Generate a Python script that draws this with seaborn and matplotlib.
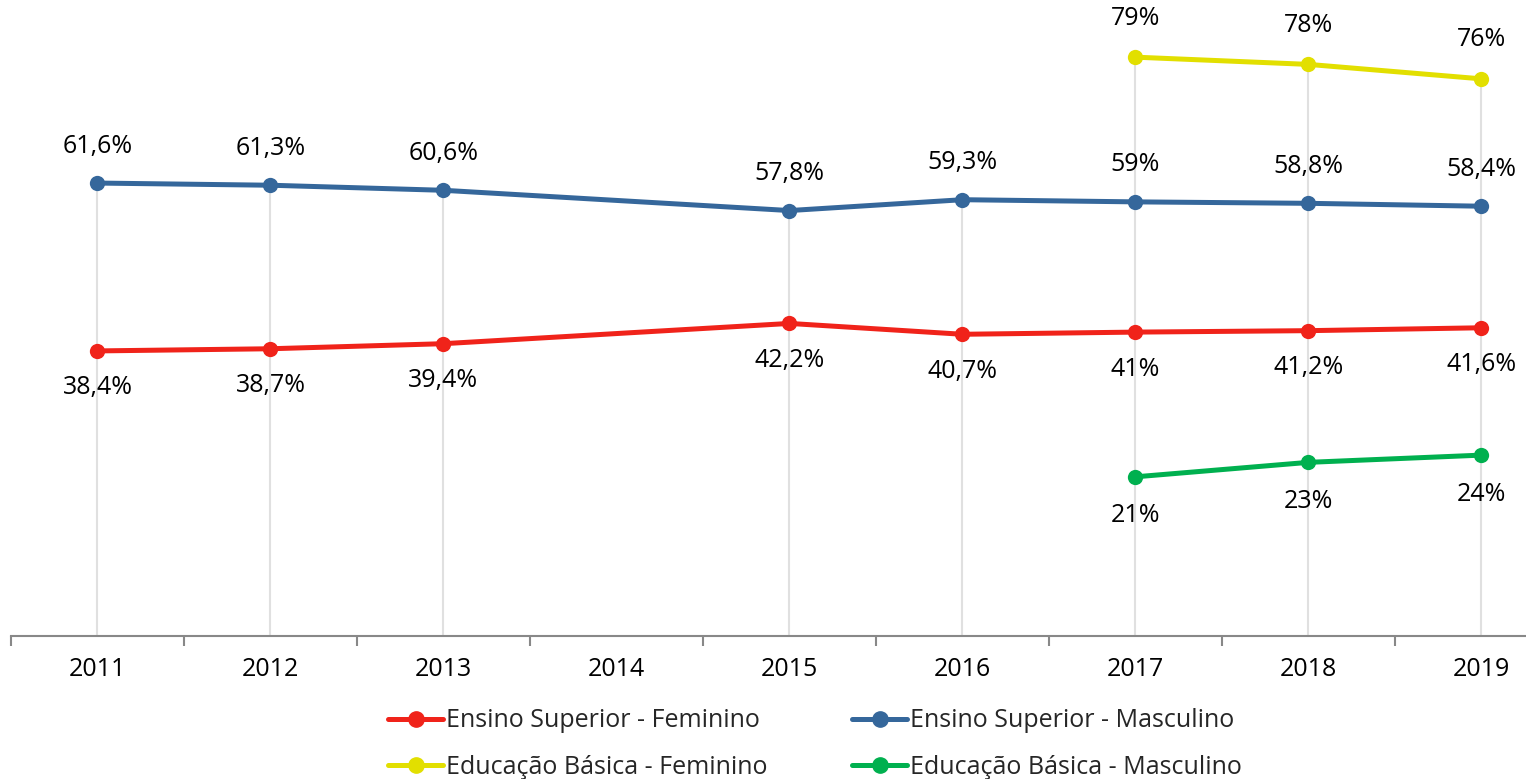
import seaborn as sns
import pandas as pd
import matplotlib.pyplot as plt
import numpy as np
from matplotlib.lines import Line2D

# dados (percentuais), 2014 sem dado
anos = ['2011', '2012', '2013', '2014', '2015', '2016', '2017', '2018', '2019']
es_fem = [38.4, 38.7, 39.4, np.nan, 42.2, 40.7, 41.0, 41.2, 41.6]
es_masc = [61.6, 61.3, 60.6, np.nan, 57.8, 59.3, 59.0, 58.8, 58.4]
eb_fem = [np.nan, np.nan, np.nan, np.nan, np.nan, np.nan, 79, 78, 76]
eb_masc = [np.nan, np.nan, np.nan, np.nan, np.nan, np.nan, 21, 23, 24]

series = {'Ensino Superior - Feminino': es_fem,
          'Ensino Superior - Masculino': es_masc,
          'Educação Básica - Feminino': eb_fem,
          'Educação Básica - Masculino': eb_masc}

cores = {'Ensino Superior - Feminino': '#F0231A',
         'Ensino Superior - Masculino': '#35679B',
         'Educação Básica - Feminino': '#E2DF00',
         'Educação Básica - Masculino': '#00B04F'}

# rótulo acima (+) ou abaixo (-)
lado = {'Ensino Superior - Feminino': -1,
        'Ensino Superior - Masculino': 1,
        'Educação Básica - Feminino': 1,
        'Educação Básica - Masculino': -1}

rows = []
for nome, vals in series.items():
    for i, v in enumerate(vals):
        rows.append({'x': i, 'valor': v, 'serie': nome})
df = pd.DataFrame(rows).dropna()

sns.set_style('white')
plt.rcParams['font.family'] = ['Open Sans', 'DejaVu Sans']

fig = plt.figure(figsize=(15.26, 7.79), dpi=100)
ax = fig.add_axes([11 / 1526, 143 / 779, 1557 / 1526, 636 / 779])

ymin, ymax = -1, 86.9

# linhas verticais do ponto mais alto até o eixo
topo = df.groupby('x')['valor'].max()
ax.vlines(topo.index, ymin, topo.values, color='#e0e0e0', lw=1.5, zorder=1)

sns.lineplot(data=df, x='x', y='valor', hue='serie', palette=cores,
             hue_order=list(series.keys()), marker='o', markersize=11,
             markeredgewidth=0, linewidth=3.6, ax=ax, legend=False, zorder=3)

def fmt(v):
    if float(v).is_integer():
        return '{0}%'.format(int(v))
    return '{0:.1f}%'.format(v).replace('.', ',')

for nome in series:
    sub = df[df['serie'] == nome]
    for x, v in zip(sub['x'], sub['valor']):
        off = 37 if nome.startswith('Ensino') else 39
        ax.annotate(fmt(v), (x, v), xytext=(0, off * lado[nome]),
                    textcoords='offset pixels', ha='center', va='center',
                    fontsize=18, color='black')

ax.set_xlim(-0.5, 8.5)
ax.set_ylim(ymin, ymax)
ax.set_xticks(range(len(anos)))
ax.set_xticklabels(anos, fontsize=18, color='black')
ax.set_xticks(np.arange(-0.5, 9, 1), minor=True)
ax.tick_params(axis='x', which='major', length=0, pad=15)
ax.tick_params(axis='x', which='minor', bottom=True, length=7, width=1.5,
               color='#888888', direction='out')
ax.set_yticks([])
ax.set_xlabel('')
ax.set_ylabel('')
for s in ['top', 'right', 'left']:
    ax.spines[s].set_visible(False)
ax.spines['bottom'].set_color('#888888')
ax.spines['bottom'].set_linewidth(1.5)

ordem = ['Ensino Superior - Feminino', 'Educação Básica - Feminino',
         'Ensino Superior - Masculino', 'Educação Básica - Masculino']
handles = [Line2D([0], [0], color=cores[n], lw=3.6, marker='o', markersize=11) for n in ordem]
fig.legend(handles, ordem, loc='center', bbox_to_anchor=(815 / 1526, 1 - 744 / 779),
           ncol=2, frameon=False, fontsize=18, handlelength=2.2, handletextpad=0.1,
           columnspacing=3.4, labelspacing=0.85, borderpad=0)

plt.savefig('out.png', dpi=100)
